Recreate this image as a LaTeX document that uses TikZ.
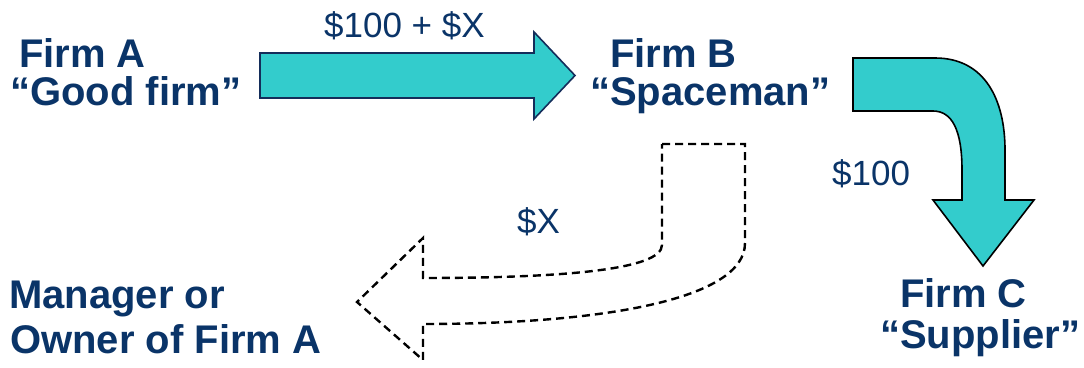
\documentclass[tikz,border=0pt]{standalone}
\usepackage{fontspec}
\setmainfont{Liberation Sans}
\usepackage{tikz}
\usetikzlibrary{arrows.meta, positioning, calc}
\definecolor{navytext}{RGB}{10,52,104}
\definecolor{turq}{RGB}{51,204,204}
\definecolor{navyline}{RGB}{20,45,90}

\begin{document}
\begin{tikzpicture}[x=1pt, y=-1pt,
    firmlabel/.style={anchor=base west, inner sep=0pt, text=navytext,
      font=\fontsize{40}{46}\selectfont\bfseries},
    moneylabel/.style={anchor=base west, inner sep=0pt, text=navytext,
      font=\fontsize{35}{40}\selectfont},
    blockarrow/.style={fill=turq, line width=1.6pt, line join=miter}]
  \useasboundingbox (0,0) rectangle (1084,367);

  % Firm labels
  \node[firmlabel] (firmA) at (19,67) {Firm A};
  \node[firmlabel] (firmAq) at (10,105) {“Good firm”};
  \node[firmlabel] (firmB) at (610,67) {Firm B};
  \node[firmlabel] (firmBq) at (590,105) {“Spaceman”};
  \node[firmlabel] (firmC) at (900,307) {Firm C};
  \node[firmlabel] (firmCq) at (880,348) {“Supplier”};
  \node[firmlabel] (owner) at (9,308) {Manager or};
  \node[firmlabel] (ownerq) at (10,353) {Owner of Firm A};

  % Money labels
  \node[moneylabel] (payAB) at (324,37) {\$100 + \$X};
  \node[moneylabel] (payBC) at (832,185) {\$100};
  \node[moneylabel] (payBO) at (517,233) {\$X};

  % Straight arrow A to B
  \draw[blockarrow, draw=navyline] (260,53) -- (534,53) -- (534,32) -- (575,75.5)
    -- (534,119) -- (534,98) -- (260,98) -- cycle;

  % Bent arrow B to C
  \draw[blockarrow, draw=black] (853,58) -- (935,58)
    .. controls (985,58) and (1005,100) .. (1005,150) -- (1005,200)
    -- (1034,200) -- (983,266) -- (933,200) -- (962,200) -- (962,170)
    .. controls (962,130) and (952,111) .. (933,111) -- (853,111) -- cycle;

  % Dashed arrow B to owner
  \draw[black, line width=2.4pt, dash pattern=on 8pt off 5pt, line join=miter]
    (662,144) -- (745,144) -- (745,243)
    .. controls (745,300) and (600,324) .. (423,324) -- (423,360)
    -- (357,302) -- (423,238) -- (423,278)
    .. controls (560,278) and (662,270) .. (662,245) -- cycle;
\end{tikzpicture}
\end{document}
